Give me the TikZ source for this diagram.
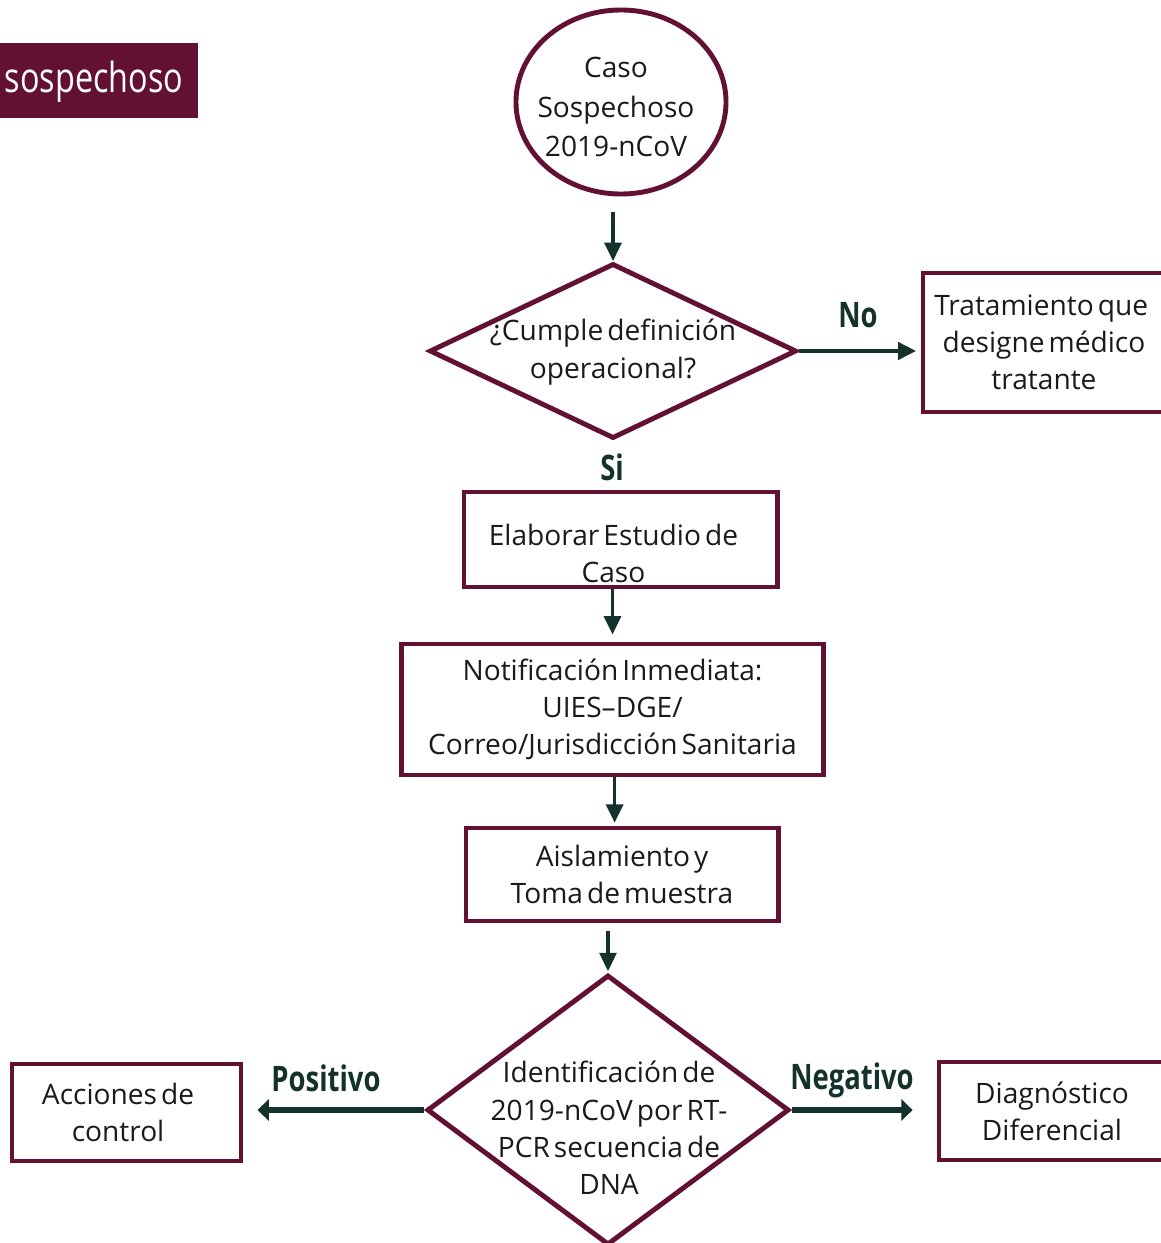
\documentclass[tikz,border=0pt]{standalone}
\usepackage{fontspec}
\setmainfont{Open Sans}[WordSpace=0.55]
\newfontfamily\etiqfont{Open Sans}[FakeStretch=0.78]
\newfontfamily\bannerfont{Open Sans}[FakeStretch=0.78]
\usetikzlibrary{shapes.geometric,arrows.meta}
\definecolor{guinda}{HTML}{621132}
\definecolor{verdeosc}{HTML}{13322B}
\definecolor{texto}{HTML}{1A1A1A}

\tikzset{
  caja/.style={draw=guinda, line width=3.5pt, rectangle, align=center, inner sep=0pt,
    text=texto, font=\fontsize{20}{26.5}\selectfont},
  inicio/.style={draw=guinda, line width=3.5pt, ellipse, inner sep=0pt,
    minimum width=5.25cm, minimum height=4.6cm},
  decision/.style={draw=guinda, line width=3.5pt, diamond, inner sep=0pt},
  texdec/.style={align=center, text=texto, inner sep=0pt, font=\fontsize{20}{26.5}\selectfont},
  etiq/.style={text=verdeosc, inner sep=0pt, font=\etiqfont\bfseries\fontsize{25}{30}\selectfont},
  flecha/.style={draw=verdeosc, line width=2.4pt, -{Triangle[length=13pt,width=12pt]}},
  flechagruesa/.style={draw=verdeosc, line width=4.3pt, -{Triangle[length=8pt,width=15pt]}}
}

\begin{document}
\begin{tikzpicture}[x=0.025cm,y=-0.025cm]
  \useasboundingbox (0,0) rectangle (1161,1243);

  % encabezado
  \node[fill=guinda, minimum width=4.95cm, minimum height=1.875cm, inner sep=0pt] (banner) at (99,80.5) {};
  \node[text=white, inner sep=0pt, font=\bannerfont\fontsize{29.5}{32}\selectfont] (bannertxt) at (94,82) {sospechoso};

  % flujo principal
  \node[inicio] (caso) at (621,102) {};
  \node[texdec, font=\fontsize{20}{28.4}\selectfont] (casotxt) at (616,107) {Caso\\Sospechoso\\2019-nCoV};

  \node[decision, minimum width=9.175cm, minimum height=4.375cm] (cumple) at (613,351) {};
  \node[texdec] (cumpletxt) at (613,352) {¿Cumple definición\\operacional?};

  \node[caja, minimum width=6.05cm, minimum height=3.475cm] (tratamiento) at (1044,342.5)
    {\hspace*{-4pt}Tratamiento que\\designe médico\\tratante};

  \node[caja, minimum width=7.825cm, minimum height=2.375cm, text height=62pt] (elaborar) at (620.5,539.5)
    {\hspace*{-10pt}Elaborar Estudio de\\\hspace*{-10pt}Caso};
  \node[caja, minimum width=10.525cm, minimum height=3.275cm] (notif) at (612.5,709.5)
    {Notificación Inmediata:\\UIES--DGE/\\Correo/Jurisdicción Sanitaria};
  \node[caja, minimum width=7.8cm, minimum height=2.325cm] (aisla) at (622,874.5)
    {Aislamiento y\\Toma de muestra};

  \node[decision, minimum width=9.05cm, minimum height=6.75cm] (ident) at (608,1110) {};
  \node[texdec] (identtxt) at (609,1128) {Identificación de\\2019-nCoV por RT-\\PCR secuencia de\\DNA};

  \node[caja, minimum width=5.725cm, minimum height=2.425cm] (acciones) at (126.5,1112.5)
    {\hspace*{-12pt}Acciones de\\\hspace*{-12pt}control};
  \node[caja, minimum width=5.65cm, minimum height=2.45cm] (diag) at (1052,1111)
    {Diagnóstico\\Diferencial};

  % etiquetas
  \node[etiq] (no) at (858,315) {No};
  \node[etiq] (si) at (612,467) {Si};
  \node[etiq] (positivo) at (326,1078) {Positivo};
  \node[etiq] (negativo) at (852,1080) {Negativo};

  % conectores
  \draw[flecha, shorten <=11pt] (caso.south -| cumple.north) -- (cumple.north);
  \draw[flecha, line width=3.5pt, shorten >=3pt] (cumple.east) -- (cumple.east -| tratamiento.west);
  \draw[flecha] (notif.north |- elaborar.south) -- ([yshift=5pt]notif.north);
  \draw[flecha] ([xshift=1.5pt]notif.south) -- ([xshift=1.5pt,yshift=2pt]notif.south |- aisla.north);
  \draw[flecha, shorten <=5pt] (ident.north |- aisla.south) -- ([yshift=1pt]ident.north);
  \draw[flechagruesa, shorten >=10pt] (ident.west) -- (ident.west -| acciones.east);
  \draw[flechagruesa, shorten >=17pt] (ident.east) -- (ident.east -| diag.west);
\end{tikzpicture}
\end{document}
